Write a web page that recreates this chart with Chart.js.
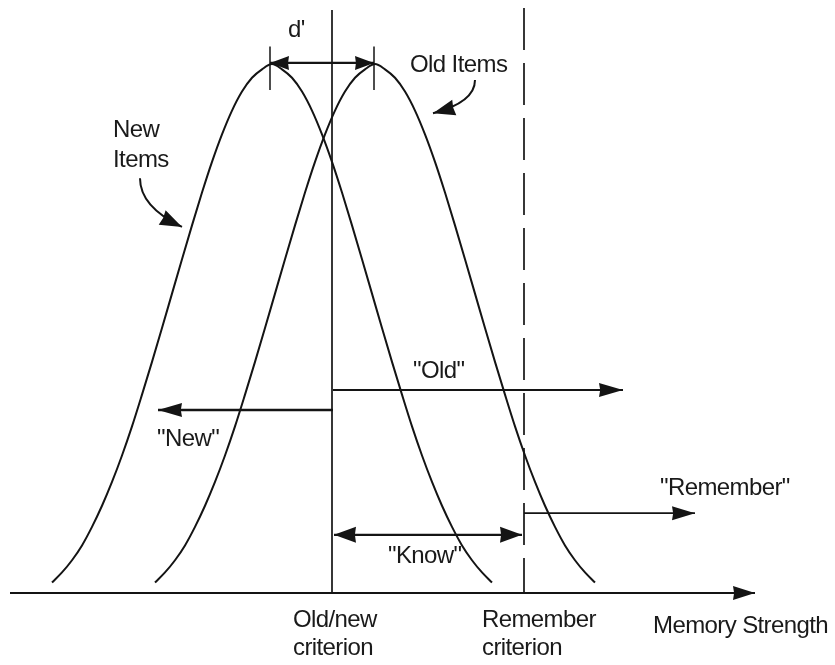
<!DOCTYPE html>
<html>
<head>
<meta charset="utf-8">
<script src="https://cdn.jsdelivr.net/npm/chart.js@4/dist/chart.umd.min.js"></script>
<style>
  html, body { margin: 0; padding: 0; background: #ffffff; }
  #wrap { width: 835px; height: 665px; }
</style>
</head>
<body>
<div id="wrap"><canvas id="c" width="835" height="665"></canvas></div>
<script>
// ---------------- DATA ----------------
// Memory strength (arbitrary units) sampled along each distribution
const newItemsX = [52,62,72,82,92,102,112,122,132,142,152,162,172,182,192,202,212,222,232,242,252,262,272,282,292,302,312,322,332,342,352,362,372,382,392,402,412,422,432,442,452,462,472,482,492];
const newItemsDensity = [2,3.9,6.2,9,12.5,16.5,21,26,31.5,37.5,43.7,50.1,56.6,63.1,69.5,75.7,81.5,86.7,91.2,94.8,97.4,99,100,99,97.4,94.8,91.2,86.7,81.5,75.7,69.5,63.1,56.6,50.1,43.7,37.5,31.5,26,21,16.5,12.5,9,6.2,3.9,2];
const oldItemsX = [155,165,175,185,195,205,215,225,235,245,255,265,275,285,295,305,315,325,335,345,355,365,375,385,395,405,415,425,435,445,455,465,475,485,495,505,515,525,535,545,555,565,575,585,595];
const oldItemsDensity = [2,3.9,6.2,9,12.5,16.5,21,26,31.5,37.5,43.7,50.1,56.6,63.1,69.5,75.7,81.5,86.7,91.2,94.8,97.4,99,100,99,97.4,94.8,91.2,86.7,81.5,75.7,69.5,63.1,56.6,50.1,43.7,37.5,31.5,26,21,16.5,12.5,9,6.2,3.9,2];

// Criteria on the memory-strength axis
const criterionNames = ['Old/new criterion', 'Remember criterion'];
const criterionX = [332, 524];
const criterionTop = [110.2, 110.6];

// Distribution means (d' marker ends)
const meanX = [270, 374];
const dPrimeLevel = 100.2;

// Response regions (arrows): start x, end x, level
const responseNames = ['"Old"', '"New"', '"Know"', '"Remember"'];
const responseFromX = [333, 333, 334, 524];
const responseToX = [623, 158, 522, 695];
const responseLevel = [38.4, 34.6, 11.0, 15.1];
const responseDouble = [false, false, true, false];

// Axis
const axisTitle = 'Memory Strength';
const axisFromX = 10;
const axisToX = 755;

const distributionNames = ['New Items', 'Old Items'];
const sensitivityName = "d'";

// ---------------- CHART ----------------
const INK = '#141414';
const pts = (xs, ys) => xs.map((x, i) => ({ x: x, y: ys[i] }));

const datasets = [];
datasets.push({ label: distributionNames[0], data: pts(newItemsX, newItemsDensity), borderColor: INK, borderWidth: 2, tension: 0.4, cubicInterpolationMode: 'monotone', pointRadius: 0, fill: false });
datasets.push({ label: distributionNames[1], data: pts(oldItemsX, oldItemsDensity), borderColor: INK, borderWidth: 2, tension: 0.4, cubicInterpolationMode: 'monotone', pointRadius: 0, fill: false });
// criteria
datasets.push({ label: criterionNames[0], data: [{ x: criterionX[0], y: criterionTop[0] }, { x: criterionX[0], y: 0 }], borderColor: INK, borderWidth: 1.7, pointRadius: 0 });
datasets.push({ label: criterionNames[1], data: [{ x: criterionX[1], y: criterionTop[1] }, { x: criterionX[1], y: 0 }], borderColor: INK, borderWidth: 1.7, borderDash: [42, 13], pointRadius: 0 });
// d' ticks
meanX.forEach((mx, i) => {
  datasets.push({ label: 'mean' + i, data: [{ x: mx, y: dPrimeLevel + 3.1 }, { x: mx, y: dPrimeLevel - 5.1 }], borderColor: INK, borderWidth: 1.5, pointRadius: 0 });
});

// arrow definitions (values from arrays above)
const arrowList = [];
arrowList.push({ x0: axisFromX, x1: axisToX, y: 0, both: false, w: 2, L: 22, hw: 7 });
arrowList.push({ x0: meanX[0], x1: meanX[1], y: dPrimeLevel, both: true, w: 2.2, L: 19, hw: 7 });
const respStyle = [{ w: 2, L: 24, hw: 7 }, { w: 2.4, L: 24, hw: 7 }, { w: 2.4, L: 22, hw: 8 }, { w: 1.6, L: 23, hw: 7 }];
responseNames.forEach((n, i) => {
  arrowList.push({ x0: responseFromX[i], x1: responseToX[i], y: responseLevel[i], both: responseDouble[i], w: respStyle[i].w, L: respStyle[i].L, hw: respStyle[i].hw });
});
arrowList.forEach((a, i) => {
  datasets.push({ label: 'arrow' + i, data: [{ x: a.x0, y: a.y }, { x: a.x1, y: a.y }], borderColor: INK, borderWidth: a.w, pointRadius: 0 });
});

// annotation anchors (data units)
const annotations = {
  texts: [
    { t: sensitivityName, x: 288, y: 105.1 },
    { t: distributionNames[1], x: 410, y: 98.5 },
    { t: 'New', x: 113, y: 86.2 },
    { t: 'Items', x: 113, y: 80.5 },
    { t: responseNames[0], x: 413, y: 40.6 },
    { t: responseNames[1], x: 157, y: 27.8 },
    { t: responseNames[2], x: 388, y: 5.7 },
    { t: responseNames[3], x: 660, y: 18.5 },
    { t: 'Old/new', x: 293, y: -6.4 },
    { t: 'criterion', x: 293, y: -11.7 },
    { t: 'Remember', x: 482, y: -6.4 },
    { t: 'criterion', x: 482, y: -11.7 },
    { t: axisTitle, x: 653, y: -7.6 }
  ],
  curved: [
    { s: [140, 78.4], c: [140, 73.0], e: [182, 69.2] },
    { s: [475, 97.0], c: [475, 92.8], e: [433, 90.7] }
  ]
};

function head(ctx, tx, ty, fx, fy, L, hw) {
  const a = Math.atan2(ty - fy, tx - fx);
  const ca = Math.cos(a), sa = Math.sin(a);
  const bx = tx - L * ca, by = ty - L * sa;
  ctx.beginPath();
  ctx.moveTo(tx, ty);
  ctx.lineTo(bx - hw * sa, by + hw * ca);
  ctx.lineTo(bx + L * 0.05 * ca, by + L * 0.05 * sa);
  ctx.lineTo(bx + hw * sa, by - hw * ca);
  ctx.closePath();
  ctx.fill();
}

const decor = {
  id: 'decor',
  afterDatasetsDraw(chart) {
    const ctx = chart.ctx;
    const xs = chart.scales.x, ys = chart.scales.y;
    const px = v => xs.getPixelForValue(v), py = v => ys.getPixelForValue(v);
    ctx.save();
    ctx.fillStyle = INK;
    ctx.strokeStyle = INK;
    // straight arrowheads
    arrowList.forEach(a => {
      head(ctx, px(a.x1), py(a.y), px(a.x0), py(a.y), a.L, a.hw);
      if (a.both) head(ctx, px(a.x0), py(a.y), px(a.x1), py(a.y), a.L, a.hw);
    });
    // curved pointer arrows
    annotations.curved.forEach(c => {
      const sx = px(c.s[0]), sy = py(c.s[1]), cx = px(c.c[0]), cy = py(c.c[1]), ex = px(c.e[0]), ey = py(c.e[1]);
      ctx.lineWidth = 2;
      ctx.beginPath();
      ctx.moveTo(sx, sy);
      ctx.quadraticCurveTo(cx, cy, ex, ey);
      ctx.stroke();
      head(ctx, ex, ey, cx, cy, 22, 8);
    });
    // texts
    ctx.font = '24px "Liberation Sans", Arial, sans-serif';
    try { ctx.letterSpacing = '-0.6px'; } catch (e) {}
    ctx.textAlign = 'left';
    ctx.textBaseline = 'alphabetic';
    ctx.fillStyle = '#1a1a1a';
    annotations.texts.forEach(o => ctx.fillText(o.t, px(o.x), py(o.y)));
    ctx.restore();
  }
};

new Chart(document.getElementById('c'), {
  type: 'line',
  data: { datasets: datasets },
  options: {
    responsive: false,
    animation: false,
    layout: { padding: 0 },
    plugins: { legend: { display: false }, tooltip: { enabled: false }, title: { display: false } },
    elements: { point: { radius: 0 }, line: { borderCapStyle: 'butt' } },
    scales: {
      x: { type: 'linear', min: 0, max: 835, display: false },
      y: { type: 'linear', min: -13.6, max: 112.1, display: false }
    }
  },
  plugins: [decor]
});
</script>
</body>
</html>
